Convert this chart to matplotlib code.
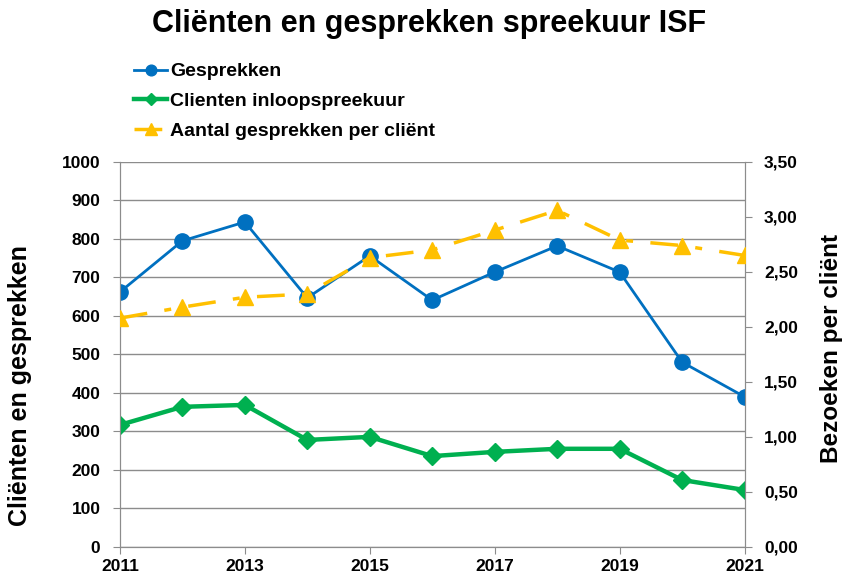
import matplotlib
matplotlib.use('Agg')
import matplotlib.pyplot as plt
from matplotlib.ticker import FuncFormatter

plt.rcParams['font.family'] = ['Liberation Sans', 'DejaVu Sans']
plt.rcParams['font.weight'] = 'bold'

years = [2011, 2012, 2013, 2014, 2015, 2016, 2017, 2018, 2019, 2020, 2021]
gesprekken = [662, 795, 844, 647, 756, 641, 714, 782, 714, 480, 390]
clienten = [317, 364, 369, 278, 286, 236, 247, 255, 255, 174, 148]
per_client = [2.08, 2.18, 2.27, 2.30, 2.63, 2.70, 2.88, 3.06, 2.79, 2.74, 2.65]

blue = '#0070C0'
green = '#00B050'
yellow = '#FFC000'
grid_col = '#8c8c8c'

fig = plt.figure(figsize=(8.5, 5.79), dpi=100)
ax = fig.add_axes([0.141, 0.0553, 0.735, 0.665])
ax2 = ax.twinx()

l1, = ax.plot(years, gesprekken, color=blue, lw=2, marker='o', ms=11, zorder=3,
              label='Gesprekken')
l2, = ax.plot(years, clienten, color=green, lw=3.2, marker='D', ms=9, zorder=3,
              label='Clienten inloopspreekuur')
l3, = ax2.plot(years, per_client, color=yellow, lw=2.5, marker='^', ms=12,
               dashes=(8, 5, 2, 5), zorder=3, label='Aantal gesprekken per cliënt')

ax.set_xlim(2011, 2021)
ax.set_ylim(0, 1000)
ax2.set_ylim(0, 3.5)
ax.set_xticks(range(2011, 2022, 2))
ax.set_yticks(range(0, 1001, 100))
ax2.set_yticks([i * 0.5 for i in range(8)])
ax2.yaxis.set_major_formatter(FuncFormatter(lambda v, p: f'{v:.2f}'.replace('.', ',')))

ax.yaxis.grid(True, color=grid_col, lw=1)
ax.set_axisbelow(True)
for a in (ax, ax2):
    a.spines['top'].set_visible(False)
    for s in ('left', 'right', 'bottom'):
        a.spines[s].set_color(grid_col)
    a.tick_params(colors=grid_col, labelcolor='black', labelsize=12.5, length=5)
ax.tick_params(axis='y', pad=9)
ax2.tick_params(axis='y', pad=9)
for lab in ax.get_xticklabels() + ax.get_yticklabels() + ax2.get_yticklabels():
    lab.set_fontweight('bold')

ax.set_ylabel('Cliënten en gesprekken', fontsize=18, fontweight='bold')
ax.yaxis.set_label_coords(-0.14, 0.42)
ax2.set_ylabel('Bezoeken per cliënt', fontsize=17.5, fontweight='bold', rotation=90)
ax2.yaxis.set_label_coords(1.12, 0.515)

fig.suptitle('Cliënten en gesprekken spreekuur ISF', fontsize=22, fontweight='bold',
             x=0.505, y=0.985)
fig.legend(handles=[l1, l2, l3], loc='upper left', bbox_to_anchor=(0.149, 0.905),
           frameon=False, fontsize=14, handlelength=1.7, handletextpad=0.15,
           labelspacing=0.62, borderaxespad=0, markerscale=0.7)

fig.savefig('out.png', dpi=100)
